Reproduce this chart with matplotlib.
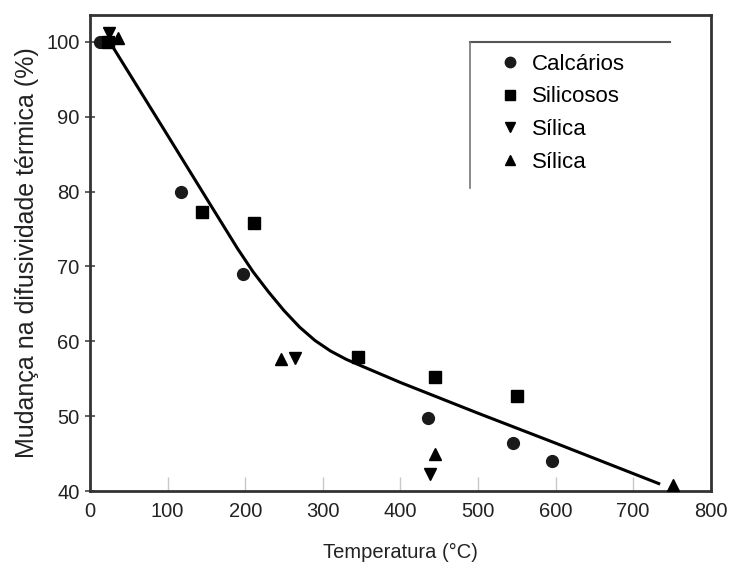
import numpy as np
import matplotlib.pyplot as plt
from matplotlib.lines import Line2D

plt.rcParams['font.family'] = ['Liberation Sans', 'DejaVu Sans']

# data
calc_x = [13, 117, 197, 436, 545, 596]
calc_y = [100.0, 80.0, 69.0, 49.8, 46.4, 44.0]

silic_x = [23, 144, 211, 346, 445, 550]
silic_y = [100.0, 77.3, 75.8, 57.9, 55.2, 52.7]

sil_down_x = [25, 264, 438]
sil_down_y = [101.2, 57.8, 42.3]

sil_up_x = [36, 246, 445, 752]
sil_up_y = [100.5, 57.6, 45.0, 40.8]

# trend curve
curve_x = [30, 100, 150, 190, 210, 230, 250, 270, 290, 310, 330, 350,
           375, 400, 500, 600, 733]
curve_y = [99.2, 87.5, 79.1, 72.4, 69.3, 66.6, 64.1, 61.9, 60.1, 58.7,
           57.6, 56.7, 55.6, 54.5, 50.4, 46.4, 41.0]

fig = plt.figure(figsize=(7.38, 5.69), dpi=100)
ax = fig.add_axes([0.122, 0.137, 0.841, 0.837])

ax.plot(curve_x, curve_y, '-', color='black', lw=2.2, zorder=2)
ax.plot(calc_x, calc_y, 'o', color='#1a1a1a', ms=8.5, zorder=3)
ax.plot(silic_x, silic_y, 's', color='black', ms=8.5, zorder=3)
ax.plot(sil_down_x, sil_down_y, 'v', color='black', ms=9, zorder=3)
ax.plot(sil_up_x, sil_up_y, '^', color='black', ms=9, zorder=3)

ax.set_xlim(0, 800)
ax.set_ylim(40, 103.6)
ax.set_xticks(np.arange(0, 801, 100))
ax.set_yticks(np.arange(40, 101, 10))
ax.tick_params(axis='x', direction='in', length=10, width=1, color='#c8c8c8',
               labelsize=14.5, labelcolor='#222222', pad=8)
ax.tick_params(axis='y', direction='inout', length=7, width=1.2, color='#444444',
               labelsize=14.5, labelcolor='#222222', pad=4)
for s in ax.spines.values():
    s.set_linewidth(2)
    s.set_color('#333333')

ax.set_xlabel('Temperatura (°C)', fontsize=14.5, color='#222222', labelpad=16)
ax.set_ylabel('Mudança na difusividade térmica (%)', fontsize=18,
              color='#222222', labelpad=5)

handles = [
    Line2D([], [], marker='o', ls='', color='#1a1a1a', ms=7.5),
    Line2D([], [], marker='s', ls='', color='black', ms=7.5),
    Line2D([], [], marker='v', ls='', color='black', ms=7.5),
    Line2D([], [], marker='^', ls='', color='black', ms=7.5),
]
labels = ['Calcários', 'Silicosos', 'Sílica', 'Sílica']
ax.legend(handles, labels, loc='upper left', bbox_to_anchor=(0.658, 0.918),
          frameon=False, fontsize=16, handlelength=1.0, handletextpad=0.5,
          labelspacing=0.52, borderaxespad=0, borderpad=0)

# legend frame: only top and left edges
ax.plot([0.612, 0.934], [0.943, 0.943], transform=ax.transAxes,
        color='#555555', lw=1.5, clip_on=False)
ax.plot([0.612, 0.612], [0.943, 0.637], transform=ax.transAxes,
        color='#777777', lw=1.2, clip_on=False)

fig.savefig('out.png', dpi=100)
